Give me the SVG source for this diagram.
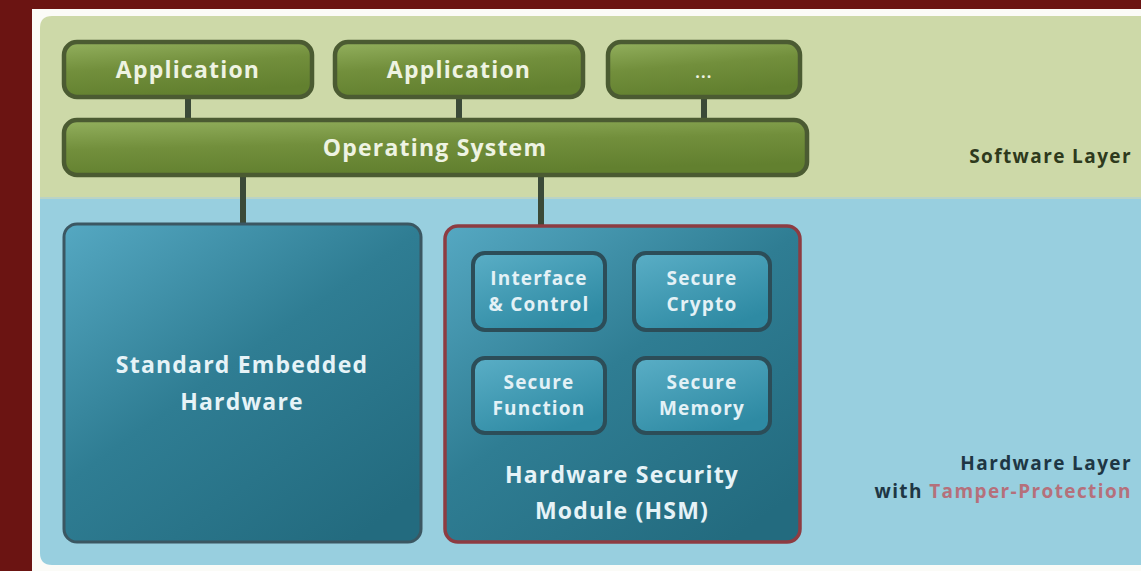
<svg xmlns="http://www.w3.org/2000/svg" width="1141" height="571" viewBox="0 0 1141 571">
<defs>
<linearGradient id="gGreen" x1="0" y1="0" x2="0.3" y2="1">
<stop offset="0" stop-color="#93b05e"/>
<stop offset="0.5" stop-color="#728f3c"/>
<stop offset="1" stop-color="#62802f"/>
</linearGradient>
<linearGradient id="gTeal" x1="0" y1="0" x2="0.8" y2="1">
<stop offset="0" stop-color="#55a8c2"/>
<stop offset="0.5" stop-color="#2f7d93"/>
<stop offset="1" stop-color="#236b7f"/>
</linearGradient>
<linearGradient id="gInner" x1="0" y1="0" x2="0.6" y2="1">
<stop offset="0" stop-color="#5aaec6"/>
<stop offset="1" stop-color="#2e8aa3"/>
</linearGradient>
<style>
.txt{font-family:"Open Sans","Liberation Sans",sans-serif;font-weight:bold;text-anchor:middle;letter-spacing:1.2px}
.gbox{fill:url(#gGreen);stroke:#4b5b32;stroke-width:4.5}
.tbox{fill:url(#gTeal);stroke:#3b5762;stroke-width:3}
.ibox{fill:url(#gInner);stroke:#2c4d58;stroke-width:4}
.gtxt{fill:#eef3e2;font-size:23px}
.ttxt{fill:#e6f3f7;font-size:23px}
.itxt{fill:#e3f1f6;font-size:19px}
.conn{stroke:#3b4a38;stroke-width:6;fill:none}
.conn2{stroke:#2c4550;stroke-width:6;fill:none}
.lbl{font-family:"Open Sans","Liberation Sans",sans-serif;font-weight:bold;font-size:19px;text-anchor:end;letter-spacing:1.4px}
</style>
</defs>
<rect width="1141" height="571" fill="#6b1412"/>
<rect x="32" y="9" width="1109" height="562" fill="#fbfbf7"/>
<path d="M40 198 V28 Q40 16 52 16 H1141 V198 Z" fill="#cdd9a8"/>
<path d="M40 198 H1141 V565 H52 Q40 565 40 553 Z" fill="#98cfdf"/>
<line x1="40" y1="198" x2="1141" y2="198" stroke="#b9d3c6" stroke-width="2"/>
<text class="lbl" x="1132" y="163" fill="#2e3a1c">Software Layer</text>
<text class="lbl" x="1132" y="470" fill="#1e3644">Hardware Layer</text>
<text class="lbl" x="1132" y="498" fill="#1e3644">with <tspan fill="#b5707b">Tamper-Protection</tspan></text>
<g id="connectors">
<line class="conn" x1="188" y1="97" x2="188" y2="119"/>
<line class="conn" x1="459" y1="97" x2="459" y2="119"/>
<line class="conn" x1="704" y1="97" x2="704" y2="119"/>
<line class="conn" x1="243" y1="175" x2="243" y2="224"/>
<line class="conn" x1="541" y1="175" x2="541" y2="252"/>
<line class="conn2" x1="605" y1="291" x2="633" y2="291"/>
<line class="conn2" x1="540" y1="330" x2="540" y2="357"/>
<line class="conn2" x1="703" y1="330" x2="703" y2="357"/>
<line class="conn2" x1="605" y1="395" x2="633" y2="395"/>
</g>
<g id="app1"><rect class="gbox" x="64" y="42" width="248" height="55" rx="13"/><text class="txt gtxt" x="188" y="78">Application</text></g>
<g id="app2"><rect class="gbox" x="335" y="42" width="248" height="55" rx="13"/><text class="txt gtxt" x="459" y="78">Application</text></g>
<g id="app3"><rect class="gbox" x="608" y="42" width="192" height="55" rx="13"/><text class="txt gtxt" x="704" y="78" style="font-size:16px">...</text></g>
<g id="os"><rect class="gbox" x="64" y="120" width="743" height="55" rx="13"/><text class="txt gtxt" x="435" y="156">Operating System</text></g>
<g id="seh"><rect class="tbox" x="64" y="224" width="357" height="318" rx="13"/><text class="txt ttxt" x="242" y="373">Standard Embedded</text><text class="txt ttxt" x="242" y="410">Hardware</text></g>
<g id="hsm"><rect class="tbox" x="445" y="226" width="355" height="316" rx="13" style="stroke:#8d3c42;stroke-width:3.5"/><text class="txt ttxt" x="622" y="483">Hardware Security</text><text class="txt ttxt" x="622" y="519">Module (HSM)</text></g>
<g id="iface"><rect class="ibox" x="473" y="253" width="132" height="77" rx="12"/><text class="txt itxt" x="539" y="285">Interface</text><text class="txt itxt" x="539" y="311">&amp; Control</text></g>
<g id="crypto"><rect class="ibox" x="634" y="253" width="136" height="77" rx="12"/><text class="txt itxt" x="702" y="285">Secure</text><text class="txt itxt" x="702" y="311">Crypto</text></g>
<g id="func"><rect class="ibox" x="473" y="358" width="132" height="75" rx="12"/><text class="txt itxt" x="539" y="389">Secure</text><text class="txt itxt" x="539" y="415">Function</text></g>
<g id="mem"><rect class="ibox" x="634" y="358" width="136" height="75" rx="12"/><text class="txt itxt" x="702" y="389">Secure</text><text class="txt itxt" x="702" y="415">Memory</text></g>
</svg>
